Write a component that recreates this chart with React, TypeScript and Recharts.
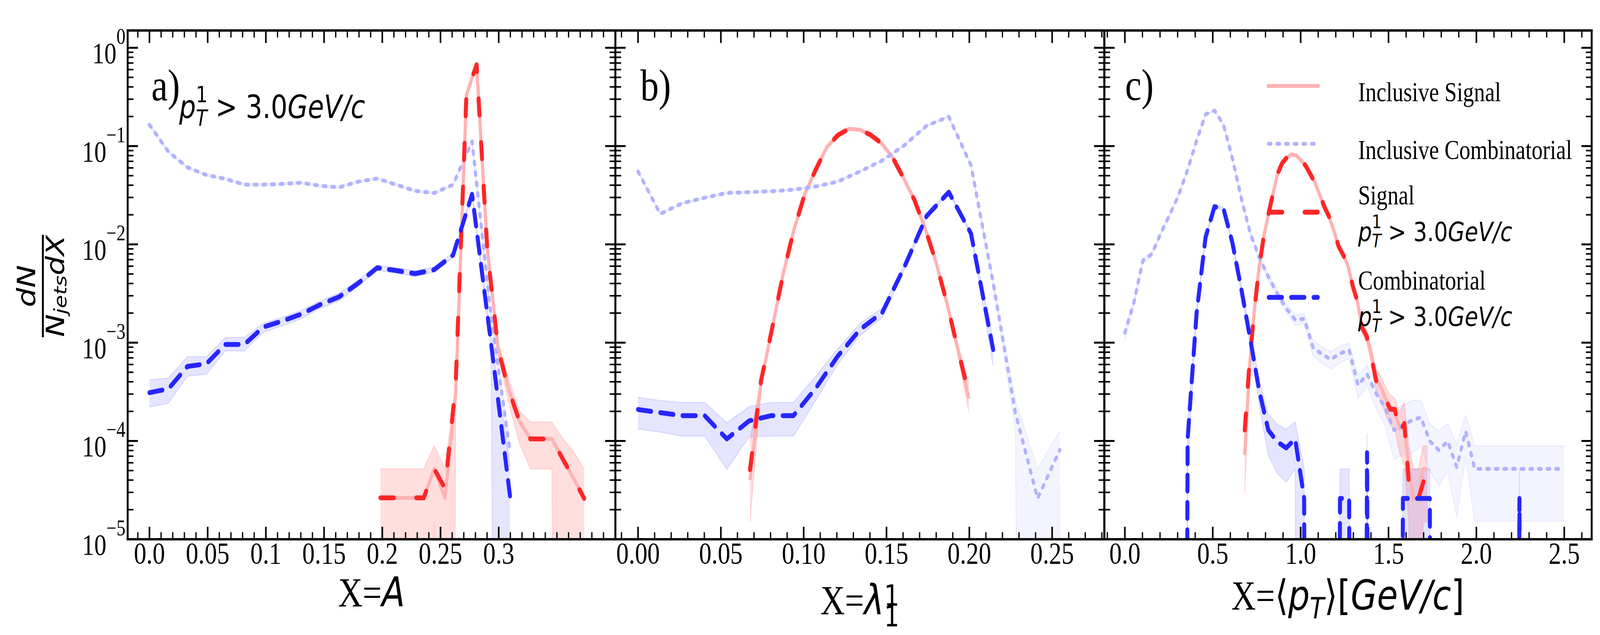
import React from "react";
import { ComposedChart, Line, Area, XAxis, YAxis } from "recharts";

const W = 5000;
const H = 1625;
const PLOT_TOP = 78;
const PLOT_BOTTOM = 1380;
const Y_DOMAIN: [number, number] = [1e-5, 1.5];
const FLOOR = 1e-30; // zero bins on a log axis, pushed far below the frame like matplotlib's clip

const SERIF = "'Liberation Serif', 'Times New Roman', serif";
const MATH = "'DejaVu Sans', sans-serif";

const C_INCL_SIG = "#ffb2b2";
const C_INCL_COMB = "#b2b2ff";
const C_SIG = "#ff2626";
const C_COMB = "#2626ff";

// ---------- y axis ----------
const yDecades = [1e-5, 1e-4, 1e-3, 1e-2, 1e-1, 1];
const yDecadeLabels = ["\u22125", "\u22124", "\u22123", "\u22122", "\u22121", "0"];
const yMinorMult = [2, 3, 4, 5, 6, 7, 8, 9];

// ---------- panel a: X = A ----------
const aTickVals = [0, 0.05, 0.1, 0.15, 0.2, 0.25, 0.3];
const aTickLabels = ["0.0", "0.05", "0.1", "0.15", "0.2", "0.25", "0.3"];

const aBinX = [0, 0.0163, 0.0326, 0.0489, 0.0652, 0.0815, 0.0978, 0.1141, 0.1304, 0.1467, 0.163, 0.1793, 0.1956, 0.2119, 0.2282, 0.2445, 0.2608, 0.2771, 0.2934, 0.3097];
const aInclComb = [0.165, 0.0875, 0.0608, 0.0508, 0.0464, 0.0405, 0.0405, 0.0412, 0.0424, 0.0394, 0.038, 0.0435, 0.0468, 0.0405, 0.035, 0.0332, 0.0405, 0.1117, 1.86e-3, 7.8e-5];
const aInclCombHi = [0.17, 0.09, 0.0625, 0.0522, 0.0477, 0.0416, 0.0416, 0.0423, 0.0436, 0.0405, 0.039, 0.0447, 0.0481, 0.0416, 0.036, 0.0341, 0.0416, 0.1148, 1.96e-3, 1.0e-4];
const aInclCombLo = [0.16, 0.085, 0.0591, 0.0494, 0.0451, 0.0394, 0.0394, 0.0401, 0.0412, 0.0383, 0.037, 0.0423, 0.0455, 0.0394, 0.034, 0.0323, 0.0394, 0.1086, 1.76e-3, 5.6e-5];
const aComb = [3.1e-4, 3.39e-4, 5.73e-4, 6.1e-4, 9.6e-4, 9.6e-4, 1.44e-3, 1.66e-3, 1.95e-3, 2.44e-3, 2.93e-3, 4.02e-3, 5.78e-3, 5.42e-3, 5.04e-3, 5.52e-3, 7.79e-3, 0.0323, 9.9e-4, 2.76e-5];
const aCombHi = [4.18e-4, 4.37e-4, 7.19e-4, 7.19e-4, 1.13e-3, 1.13e-3, 1.58e-3, 1.81e-3, 2.13e-3, 2.67e-3, 3.2e-3, 4.32e-3, 6.15e-3, 5.8e-3, 5.4e-3, 5.9e-3, 8.2e-3, 0.0337, 1.16e-3, 5.5e-5];
const aCombLo = [2.21e-4, 2.42e-4, 4.57e-4, 4.78e-4, 8.24e-4, 8.24e-4, 1.27e-3, 1.49e-3, 1.75e-3, 2.23e-3, 2.67e-3, 3.74e-3, 5.42e-3, 5.1e-3, 4.7e-3, 5.2e-3, 7.4e-3, 0.031, 8.2e-4, 0];

const aSigX = [0.1984, 0.2076, 0.2168, 0.2261, 0.2356, 0.2446, 0.2538, 0.263, 0.2723, 0.281, 0.2902, 0.2995, 0.3087, 0.3179, 0.3272, 0.3364, 0.3457, 0.3549, 0.3641, 0.3734];
const aInclSig = [2.64e-5, 2.64e-5, 2.64e-5, 2.64e-5, 2.64e-5, 5.2e-5, 2.64e-5, 3.0e-4, 0.33, 0.69, 9.0e-3, 8.8e-4, 3.3e-4, 1.58e-4, 1.05e-4, 1.05e-4, 1.05e-4, 6.6e-5, 4.2e-5, 2.6e-5];
const aInclSigHi = [5.2e-5, 5.2e-5, 5.2e-5, 5.2e-5, 5.2e-5, 8.95e-5, 5.2e-5, 3.9e-4, 0.334, 0.694, 9.5e-3, 1.03e-3, 4.2e-4, 2.02e-4, 1.56e-4, 1.56e-4, 1.56e-4, 1.06e-4, 7.9e-5, 5.2e-5];
const aInclSigLo = [0, 0, 0, 0, 0, 1.5e-5, 0, 2.1e-4, 0.326, 0.686, 8.5e-3, 7.3e-4, 2.4e-4, 9.4e-5, 5.2e-5, 5.2e-5, 5.2e-5, 0, 0, 0];
const aSig = [2.64e-5, 2.64e-5, 2.64e-5, 2.64e-5, 2.64e-5, 5.2e-5, 3.3e-5, 3.65e-4, 0.34, 0.67, 8.8e-3, 8.6e-4, 3.27e-4, 1.58e-4, 1.05e-4, 1.05e-4, 1.05e-4, 6.6e-5, 4.2e-5, 2.6e-5];

// ---------- panel b: X = lambda_1^1 ----------
const bTickVals = [0, 0.05, 0.1, 0.15, 0.2, 0.25];
const bTickLabels = ["0.00", "0.05", "0.10", "0.15", "0.20", "0.25"];

const bBinX = [0, 0.0134, 0.0268, 0.0402, 0.0536, 0.067, 0.0804, 0.0938, 0.1072, 0.1206, 0.134, 0.1474, 0.1608, 0.1742, 0.1876, 0.201, 0.2144, 0.2278, 0.2412, 0.2546];
const bInclComb = [0.0552, 0.0204, 0.0263, 0.0298, 0.0334, 0.034, 0.0347, 0.036, 0.0388, 0.0435, 0.0552, 0.0713, 0.102, 0.161, 0.199, 0.0637, 4.05e-3, 1.94e-4, 2.6e-5, 8.1e-5];
const bInclCombHi = [0.0563, 0.0208, 0.0268, 0.0304, 0.0341, 0.0347, 0.0354, 0.0367, 0.0396, 0.0444, 0.0563, 0.0727, 0.104, 0.164, 0.203, 0.065, 4.3e-3, 2.6e-4, 5.2e-5, 1.26e-4];
const bInclCombLo = [0.0541, 0.02, 0.0258, 0.0292, 0.0327, 0.0333, 0.034, 0.0353, 0.038, 0.0426, 0.0541, 0.0699, 0.1, 0.158, 0.195, 0.0624, 3.8e-3, 1.3e-4, 0, 3.5e-5];
const bComb = [2.09e-4, 1.94e-4, 1.81e-4, 1.81e-4, 1.05e-4, 1.6e-4, 1.81e-4, 1.81e-4, 3.43e-4, 7.3e-4, 1.36e-3, 2.02e-3, 5.9e-3, 0.0194, 0.034, 0.0129, 8.5e-4];
const bCombHi = [2.78e-4, 2.58e-4, 2.46e-4, 2.46e-4, 1.53e-4, 2.23e-4, 2.46e-4, 2.46e-4, 4.55e-4, 8.68e-4, 1.57e-3, 2.25e-3, 6.38e-3, 0.0204, 0.0352, 0.0134, 1.07e-3];
const bCombLo = [1.32e-4, 1.23e-4, 1.12e-4, 1.12e-4, 5.13e-5, 1.1e-4, 1.12e-4, 1.12e-4, 2.58e-4, 6.06e-4, 1.18e-3, 1.8e-3, 5.48e-3, 0.0186, 0.0329, 0.0124, 5.78e-4];

const bSigX = [0.0676, 0.0743, 0.0808, 0.0875, 0.094, 0.1007, 0.1073, 0.114, 0.1205, 0.1272, 0.1337, 0.1404, 0.1469, 0.1536, 0.1601, 0.1668, 0.1733, 0.18, 0.1865, 0.1932, 0.1997];
const bSig = [5.1e-5, 4.14e-4, 1.36e-3, 4.9e-3, 0.0139, 0.0327, 0.0578, 0.0975, 0.1285, 0.1496, 0.147, 0.13, 0.107, 0.0769, 0.0479, 0.0284, 0.0146, 6.5e-3, 2.5e-3, 8.45e-4, 2.97e-4];
const bInclSig = [4.0e-5, 4.0e-4, 1.35e-3, 4.9e-3, 0.0139, 0.0327, 0.0578, 0.0975, 0.1285, 0.1496, 0.147, 0.13, 0.107, 0.0769, 0.0479, 0.0284, 0.0146, 6.5e-3, 2.5e-3, 8.45e-4, 2.7e-4];
const bInclSigHi = [1.0e-4, 4.6e-4, 1.45e-3, 5.1e-3, 0.0143, 0.0333, 0.0587, 0.0987, 0.13, 0.1512, 0.1486, 0.1315, 0.1084, 0.0781, 0.0489, 0.0292, 0.0152, 6.85e-3, 2.7e-3, 9.6e-4, 3.9e-4];
const bInclSigLo = [1.5e-5, 3.4e-4, 1.25e-3, 4.7e-3, 0.0135, 0.0321, 0.0569, 0.0963, 0.127, 0.148, 0.1454, 0.1285, 0.1056, 0.0757, 0.0469, 0.0276, 0.014, 6.15e-3, 2.3e-3, 7.3e-4, 2.0e-4];

// ---------- panel c: X = <pT> ----------
const cTickVals = [0, 0.5, 1.0, 1.5, 2.0, 2.5];
const cTickLabels = ["0.0", "0.5", "1.0", "1.5", "2.0", "2.5"];

const cBinX = [0, 0.051, 0.102, 0.153, 0.204, 0.255, 0.306, 0.357, 0.408, 0.459, 0.51, 0.561, 0.612, 0.663, 0.714, 0.765, 0.816, 0.867, 0.918, 0.969, 1.02, 1.071, 1.122, 1.173, 1.224, 1.276, 1.327, 1.378, 1.429, 1.48, 1.531, 1.582, 1.633, 1.684, 1.735, 1.786, 1.837, 1.888, 1.939, 1.99, 2.041, 2.092, 2.143, 2.194, 2.245, 2.296, 2.347, 2.398, 2.449, 2.5];
const cInclComb = [1.26e-3, 2.54e-3, 6.82e-3, 7.96e-3, 0.0129, 0.02, 0.0318, 0.0575, 0.1135, 0.21, 0.23, 0.165, 0.0748, 0.0291, 0.0129, 7.3e-3, 4.68e-3, 3.16e-3, 2.24e-3, 1.71e-3, 1.75e-3, 8.93e-4, 7.59e-4, 6.76e-4, 7.76e-4, 8.41e-4, 3.68e-4, 4.79e-4, 3.05e-4, 2.2e-4, 1.29e-4, 1.45e-4, 1.62e-4, 1.74e-4, 9.95e-5, 8.07e-5, 9.95e-5, 5.42e-5, 1.26e-4, 5.2e-5, 5.2e-5, 5.2e-5, 5.2e-5, 5.2e-5, 5.2e-5, 5.2e-5, 5.2e-5, 5.2e-5, 5.2e-5, 5.2e-5];
const cInclCombHi = [1.44e-3, 2.8e-3, 7.24e-3, 8.42e-3, 0.0135, 0.0207, 0.0327, 0.0587, 0.1152, 0.2123, 0.2325, 0.167, 0.0762, 0.03, 0.0135, 7.74e-3, 5.03e-3, 3.45e-3, 2.48e-3, 1.92e-3, 1.96e-3, 1.05e-3, 9.0e-4, 8.1e-4, 9.2e-4, 9.9e-4, 4.66e-4, 5.9e-4, 3.94e-4, 2.96e-4, 2.1e-4, 2.3e-4, 2.6e-4, 2.6e-4, 1.5e-4, 1.27e-4, 1.5e-4, 9.2e-5, 1.83e-4, 8.9e-5, 8.9e-5, 8.9e-5, 8.9e-5, 8.9e-5, 8.9e-5, 8.9e-5, 8.9e-5, 8.9e-5, 8.9e-5, 8.9e-5];
const cInclCombLo = [1.08e-3, 2.28e-3, 6.4e-3, 7.5e-3, 0.0123, 0.0193, 0.0309, 0.0563, 0.1118, 0.2077, 0.2276, 0.163, 0.0734, 0.0282, 0.0123, 6.86e-3, 4.33e-3, 2.87e-3, 2.0e-3, 1.5e-3, 1.54e-3, 7.4e-4, 6.2e-4, 5.4e-4, 6.3e-4, 6.9e-4, 2.7e-4, 3.67e-4, 2.16e-4, 1.44e-4, 6.5e-5, 7.2e-5, 7.5e-5, 9.0e-5, 4.9e-5, 3.5e-5, 4.9e-5, 1.67e-5, 6.9e-5, 1.53e-5, 1.53e-5, 1.53e-5, 1.53e-5, 1.53e-5, 1.53e-5, 1.53e-5, 1.53e-5, 1.53e-5, 1.53e-5, 1.53e-5];
const cComb = [0, 0, 0, 0, 0, 0, 0, 1.05e-4, 2.0e-3, 0.0118, 0.0242, 0.0231, 0.01035, 3.47e-3, 1.07e-3, 3.2e-4, 1.29e-4, 9.8e-5, 8.5e-5, 1.05e-4, 2.6e-5, 0, 0, 0, 2.6e-5, 2.6e-5, 0, 7.6e-5, 0, 0, 0, 2.6e-5, 2.6e-5, 2.6e-5, 2.6e-5, 0, 0, 0, 0, 0, 0, 0, 0, 0, 2.6e-5, 0, 0, 0, 0, 0];
const cCombHi = [0, 0, 0, 0, 0, 0, 0, 1.56e-4, 2.22e-3, 0.0124, 0.025, 0.0239, 0.0109, 3.77e-3, 1.24e-3, 4.1e-4, 1.86e-4, 1.48e-4, 1.32e-4, 1.56e-4, 5.2e-5, 0, 0, 0, 5.2e-5, 5.2e-5, 0, 1.2e-4, 0, 0, 0, 5.2e-5, 5.2e-5, 5.2e-5, 5.2e-5, 0, 0, 0, 0, 0, 0, 0, 0, 0, 5.2e-5, 0, 0, 0, 0, 0];
const cCombLo = [0, 0, 0, 0, 0, 0, 0, 5.2e-5, 1.78e-3, 0.0113, 0.0234, 0.0223, 9.8e-3, 3.17e-3, 9.0e-4, 2.27e-4, 7.1e-5, 4.7e-5, 3.8e-5, 5.2e-5, 0, 0, 0, 0, 0, 0, 0, 3.2e-5, 0, 0, 0, 0, 0, 0, 0, 0, 0, 0, 0, 0, 0, 0, 0, 0, 0, 0, 0, 0, 0, 0];

const cSigX = [0.682, 0.709, 0.735, 0.762, 0.789, 0.816, 0.842, 0.869, 0.896, 0.922, 0.949, 0.976, 1.002, 1.029, 1.056, 1.082, 1.109, 1.136, 1.162, 1.189, 1.216, 1.243, 1.269, 1.296, 1.323, 1.349, 1.376, 1.403, 1.429, 1.456, 1.483, 1.51, 1.536, 1.563, 1.59, 1.616, 1.643, 1.67, 1.696, 1.723];
const cSig = [1.29e-4, 6.17e-4, 2.0e-3, 5.5e-3, 0.0117, 0.02, 0.0324, 0.0525, 0.0676, 0.0766, 0.0824, 0.08, 0.0716, 0.0631, 0.0515, 0.0423, 0.0318, 0.0239, 0.0191, 0.0138, 9.55e-3, 7.76e-3, 6.07e-3, 3.8e-3, 2.63e-3, 1.43e-3, 1.16e-3, 7.08e-4, 4.14e-4, 3.52e-4, 2.65e-4, 2.1e-4, 2.1e-4, 1.2e-4, 1.51e-4, 3.7e-5, 2.6e-5, 2.6e-5, 3.7e-5, 5.3e-5];
const cInclSig = [7.2e-5, 5.5e-4, 2.0e-3, 5.5e-3, 0.0117, 0.02, 0.0324, 0.0525, 0.0676, 0.0766, 0.0824, 0.08, 0.0716, 0.0631, 0.0515, 0.0423, 0.0318, 0.0239, 0.0191, 0.0138, 9.55e-3, 7.76e-3, 6.07e-3, 3.8e-3, 2.63e-3, 1.43e-3, 1.16e-3, 7.5e-4, 4.3e-4, 3.6e-4, 2.7e-4, 2.2e-4, 2.0e-4, 1.35e-4, 1.4e-4, 5.2e-5, 2.6e-5, 2.6e-5, 5.2e-5, 5.2e-5];
const cInclSigHi = [1.15e-4, 6.7e-4, 2.23e-3, 5.88e-3, 0.01225, 0.0207, 0.0333, 0.0537, 0.0689, 0.078, 0.0839, 0.0814, 0.073, 0.0644, 0.0527, 0.0433, 0.0327, 0.0247, 0.0198, 0.0144, 0.01005, 8.21e-3, 6.47e-3, 4.11e-3, 2.89e-3, 1.62e-3, 1.33e-3, 8.9e-4, 5.4e-4, 4.6e-4, 3.55e-4, 2.95e-4, 2.7e-4, 1.95e-4, 2.5e-4, 8.9e-5, 5.2e-5, 5.2e-5, 8.9e-5, 8.9e-5];
const cInclSigLo = [2.9e-5, 4.3e-4, 1.77e-3, 5.12e-3, 0.01115, 0.0193, 0.0315, 0.0513, 0.0663, 0.0752, 0.0809, 0.0786, 0.0702, 0.0618, 0.0503, 0.0413, 0.0309, 0.0231, 0.0184, 0.0132, 9.05e-3, 7.31e-3, 5.67e-3, 3.49e-3, 2.37e-3, 1.24e-3, 9.9e-4, 6.1e-4, 3.2e-4, 2.6e-4, 1.85e-4, 1.45e-4, 1.3e-4, 7.6e-5, 5.5e-5, 1.5e-5, 0, 0, 1.5e-5, 1.5e-5];

// ---------- helpers ----------
const clampLog = (v: number) => (v > 0 ? v : FLOOR);

const lineRows = (xs: number[], ys: number[]) => xs.slice(0, ys.length).map((x, i) => ({ x, y: clampLog(ys[i]) }));
const bandRows = (xs: number[], lo: number[], hi: number[]) =>
  xs.slice(0, hi.length).map((x, i) => ({ x, band: [clampLog(lo[i]), clampLog(hi[i])] }));

const stepTicks = (from: number, to: number, step: number) => {
  const out: number[] = [];
  for (let i = 0; from + i * step <= to + 1e-9; i++) out.push(Math.round((from + i * step) * 1e6) / 1e6);
  return out;
};

const near = (a: number, b: number) => Math.abs(a - b) < 1e-7;

function makeXTick(side: "bottom" | "top", majors: number[], labels: string[]) {
  return (props: any) => {
    const { x, y, payload } = props;
    const idx = majors.findIndex((m) => near(m, payload.value));
    const major = idx >= 0;
    const len = major ? 32 : 18;
    const dir = side === "bottom" ? -1 : 1;
    return (
      <g>
        <line x1={x} y1={y} x2={x} y2={y + dir * len} stroke="#000" strokeWidth={major ? 5 : 4} />
        {side === "bottom" && major && (
          <text x={x} y={y + 62} textAnchor="middle" fontFamily={SERIF} fontSize={78} fill="#000">
            {labels[idx]}
          </text>
        )}
      </g>
    );
  };
}

function makeYTick(side: "left" | "right", showLabels: boolean) {
  return (props: any) => {
    const { x, y, payload } = props;
    const idx = yDecades.findIndex((d) => Math.abs(d - payload.value) / d < 1e-6);
    const major = idx >= 0;
    const len = major ? 32 : 18;
    const dir = side === "left" ? 1 : -1;
    return (
      <g>
        <line x1={x} y1={y} x2={x + dir * len} y2={y} stroke="#000" strokeWidth={major ? 5 : 4} />
        {showLabels && major && (
          <text x={x - 7} y={y + 40} textAnchor="end" fontFamily={SERIF} fontSize={76} fill="#000">
            <tspan>10</tspan>
            <tspan fontSize={56} dy={-50}>
              {yDecadeLabels[idx]}
            </tspan>
          </text>
        )}
      </g>
    );
  };
}

const yTicks = [...yDecades, ...yDecades.slice(0, 5).flatMap((d) => yMinorMult.map((m) => m * d))];

interface PanelProps {
  left: number;
  right: number;
  xDomain: [number, number];
  xMajor: number[];
  xLabels: string[];
  xMinor: number[];
  yLabels: boolean;
  inclSig: { x: number[]; y: number[]; lo: number[]; hi: number[] };
  inclComb: { x: number[]; y: number[]; lo: number[]; hi: number[] };
  sig: { x: number[]; y: number[] };
  comb: { x: number[]; y: number[]; lo: number[]; hi: number[] };
}

function Panel(p: PanelProps) {
  const xTicks = [...p.xMajor, ...p.xMinor.filter((m) => !p.xMajor.some((M) => near(M, m)))];
  const axisLine = { stroke: "#000", strokeWidth: 6, strokeLinecap: "square" as const };
  // every axis takes 1px, so the margins leave the plot box exactly at [left,right] x [top,bottom]
  return (
    <div style={{ position: "absolute", left: 0, top: 0 }}>
      <ComposedChart
        width={W}
        height={H}
        margin={{ top: PLOT_TOP - 1, bottom: H - PLOT_BOTTOM - 1, left: p.left - 1, right: W - p.right - 1 }}
      >
        <Area xAxisId="b" yAxisId="l" data={bandRows(p.inclComb.x, p.inclComb.lo, p.inclComb.hi)} dataKey="band" type="linear"
          fill="#0000ff" fillOpacity={0.045} stroke="#0000ff" strokeOpacity={0.06} strokeWidth={3} isAnimationActive={false} />
        <Area xAxisId="b" yAxisId="l" data={bandRows(p.inclSig.x, p.inclSig.lo, p.inclSig.hi)} dataKey="band" type="linear"
          fill="#ff0000" fillOpacity={0.13} stroke="#ff0000" strokeOpacity={0.12} strokeWidth={3} isAnimationActive={false} />
        <Area xAxisId="b" yAxisId="l" data={bandRows(p.comb.x, p.comb.lo, p.comb.hi)} dataKey="band" type="linear"
          fill="#0000ff" fillOpacity={0.1} stroke="#0000ff" strokeOpacity={0.1} strokeWidth={3} isAnimationActive={false} />
        <Line xAxisId="b" yAxisId="l" data={lineRows(p.inclSig.x, p.inclSig.y)} dataKey="y" type="linear" dot={false}
          stroke={C_INCL_SIG} strokeWidth={10} strokeLinejoin="round" isAnimationActive={false} />
        <Line xAxisId="b" yAxisId="l" data={lineRows(p.inclComb.x, p.inclComb.y)} dataKey="y" type="linear" dot={false}
          stroke={C_INCL_COMB} strokeWidth={10} strokeDasharray="7.5 19.5" strokeLinecap="round" strokeLinejoin="round" isAnimationActive={false} />
        <Line xAxisId="b" yAxisId="l" data={lineRows(p.sig.x, p.sig.y)} dataKey="y" type="linear" dot={false}
          stroke={C_SIG} strokeWidth={12.5} strokeDasharray="42 70" strokeLinecap="round" strokeLinejoin="round" isAnimationActive={false} />
        <Line xAxisId="b" yAxisId="l" data={lineRows(p.comb.x, p.comb.y)} dataKey="y" type="linear" dot={false}
          stroke={C_COMB} strokeWidth={12.5} strokeDasharray="41 29" strokeLinecap="round" strokeLinejoin="round" isAnimationActive={false} />

        <XAxis xAxisId="b" type="number" dataKey="x" domain={p.xDomain} allowDataOverflow ticks={xTicks} interval={0}
          height={1} tickSize={0} tickMargin={0} tickLine={false} axisLine={axisLine} tick={makeXTick("bottom", p.xMajor, p.xLabels)} />
        <XAxis xAxisId="t" orientation="top" type="number" dataKey="x" domain={p.xDomain} allowDataOverflow ticks={xTicks} interval={0}
          height={1} tickSize={0} tickMargin={0} tickLine={false} axisLine={axisLine} tick={makeXTick("top", p.xMajor, p.xLabels)} />
        <YAxis yAxisId="l" type="number" scale="log" domain={Y_DOMAIN} allowDataOverflow ticks={yTicks} interval={0}
          width={1} tickSize={0} tickMargin={0} tickLine={false} axisLine={axisLine} tick={makeYTick("left", p.yLabels)} />
        <YAxis yAxisId="r" orientation="right" type="number" scale="log" domain={Y_DOMAIN} allowDataOverflow ticks={yTicks} interval={0}
          width={1} tickSize={0} tickMargin={0} tickLine={false} axisLine={axisLine} tick={makeYTick("right", false)} />
      </ComposedChart>
    </div>
  );
}

function PtCut({ x, y, fs }: { x: number; y: number; fs: number }) {
  return (
    <text x={x} y={y} fontFamily={MATH} fontSize={fs} fill="#000" style={{ whiteSpace: "pre" }}>
      <tspan fontStyle="italic">p</tspan>
      <tspan fontSize={fs * 0.7} dy={-0.49 * fs}>1</tspan>
      <tspan fontSize={fs * 0.7} fontStyle="italic" dx={-0.445 * fs} dy={0.73 * fs}>T</tspan>
      <tspan dy={-0.24 * fs}>{" > 3.0"}</tspan>
      <tspan fontStyle="italic">GeV/c</tspan>
    </text>
  );
}

function Overlay() {
  return (
    <svg width={W} height={H} style={{ position: "absolute", left: 0, top: 0 }}>
      {/* y label: dN / (N_jets dX) */}
      <g transform="translate(134 732) rotate(-90)" fontFamily={MATH} fontStyle="italic" fontSize={78} fill="#000">
        <text x={0} y={-24} textAnchor="middle">dN</text>
        <line x1={-131} x2={131} y1={0} y2={0} stroke="#000" strokeWidth={6} />
        <text x={0} y={66} textAnchor="middle">
          N<tspan fontSize={55} dy={8}>jets</tspan>
          <tspan dy={-8}>dX</tspan>
        </text>
      </g>

      {/* x labels */}
      <text x={1161} y={1552} textAnchor="middle" fontSize={106} fill="#000">
        <tspan fontFamily={SERIF}>X=</tspan>
        <tspan fontFamily={MATH} fontStyle="italic">A</tspan>
      </text>
      <text x={2687} y={1572} textAnchor="middle" fontSize={106} fill="#000">
        <tspan fontFamily={SERIF}>X=</tspan>
        <tspan fontFamily={MATH} fontStyle="italic">λ</tspan>
        <tspan fontFamily={MATH} fontSize={74} dy={-22}>1</tspan>
        <tspan fontFamily={MATH} fontSize={74} dx={-47} dy={53}>1</tspan>
      </text>
      <text x={4212} y={1560} textAnchor="middle" fontSize={106} fill="#000">
        <tspan fontFamily={SERIF}>X=</tspan>
        <tspan fontFamily={MATH}>⟨</tspan>
        <tspan fontFamily={MATH} fontStyle="italic">p</tspan>
        <tspan fontFamily={MATH} fontStyle="italic" fontSize={74} dy={22}>T</tspan>
        <tspan fontFamily={MATH} dy={-22}>⟩[</tspan>
        <tspan fontFamily={MATH} fontStyle="italic">GeV/c</tspan>
        <tspan fontFamily={MATH}>]</tspan>
      </text>

      {/* panel tags */}
      <text x={473} y={257} fontFamily={SERIF} fontSize={115} fill="#000">a)</text>
      <text x={2001} y={257} fontFamily={SERIF} fontSize={115} fill="#000">b)</text>
      <text x={3516} y={256} fontFamily={SERIF} fontSize={115} fill="#000">c)</text>
      <PtCut x={560} y={302} fs={82} />

      {/* legend */}
      <line x1={3959} x2={4124} y1={220} y2={220} stroke={C_INCL_SIG} strokeWidth={10} />
      <text x={4244} y={259} fontFamily={SERIF} fontSize={69} fill="#000">Inclusive Signal</text>
      <line x1={3964} x2={4124} y1={368} y2={368} stroke={C_INCL_COMB} strokeWidth={10} strokeDasharray="7.5 19.5" strokeLinecap="round" />
      <text x={4244} y={407} fontFamily={SERIF} fontSize={69} fill="#000">Inclusive Combinatorial</text>
      <line x1={3965} x2={4118} y1={543} y2={543} stroke={C_SIG} strokeWidth={12.5} strokeDasharray="42 70" strokeLinecap="round" />
      <text x={4244} y={523} fontFamily={SERIF} fontSize={69} fill="#000">Signal</text>
      <PtCut x={4244} y={617} fs={68} />
      <line x1={3965} x2={4118} y1={761} y2={761} stroke={C_COMB} strokeWidth={12.5} strokeDasharray="41 29" strokeLinecap="round" />
      <text x={4244} y={741} fontFamily={SERIF} fontSize={69} fill="#000">Combinatorial</text>
      <PtCut x={4244} y={834} fs={68} />
    </svg>
  );
}

export default function App() {
  // the browser caps the window below the requested width, so the 5000px figure is squeezed to fit it
  const sx = Math.min(1, window.innerWidth / W);
  const sy = Math.min(1, window.innerHeight / H);
  return (
    <div style={{ position: "absolute", left: 0, top: 0, width: W * sx, height: H * sy, overflow: "hidden", background: "#fff" }}>
      <div style={{ position: "absolute", left: 0, top: 0, width: W, height: H, transform: `scale(${sx}, ${sy})`, transformOrigin: "0 0" }}>
        <Panel
          left={399}
          right={1923}
          xDomain={[-0.0187, 0.4002]}
          xMajor={aTickVals}
          xLabels={aTickLabels}
          xMinor={stepTicks(-0.01, 0.4, 0.01)}
          yLabels
          inclSig={{ x: aSigX, y: aInclSig, lo: aInclSigLo, hi: aInclSigHi }}
          inclComb={{ x: aBinX, y: aInclComb, lo: aInclCombLo, hi: aInclCombHi }}
          sig={{ x: aSigX, y: aSig }}
          comb={{ x: aBinX, y: aComb, lo: aCombLo, hi: aCombHi }}
        />
        <Panel
          left={1923}
          right={3451}
          xDomain={[-0.0137, 0.2815]}
          xMajor={bTickVals}
          xLabels={bTickLabels}
          xMinor={stepTicks(-0.01, 0.28, 0.01)}
          yLabels={false}
          inclSig={{ x: bSigX, y: bInclSig, lo: bInclSigLo, hi: bInclSigHi }}
          inclComb={{ x: bBinX, y: bInclComb, lo: bInclCombLo, hi: bInclCombHi }}
          sig={{ x: bSigX, y: bSig }}
          comb={{ x: bBinX, y: bComb, lo: bCombLo, hi: bCombHi }}
        />
        <Panel
          left={3451}
          right={4974}
          xDomain={[-0.117, 2.656]}
          xMajor={cTickVals}
          xLabels={cTickLabels}
          xMinor={stepTicks(-0.1, 2.6, 0.1)}
          yLabels={false}
          inclSig={{ x: cSigX, y: cInclSig, lo: cInclSigLo, hi: cInclSigHi }}
          inclComb={{ x: cBinX, y: cInclComb, lo: cInclCombLo, hi: cInclCombHi }}
          sig={{ x: cSigX, y: cSig }}
          comb={{ x: cBinX, y: cComb, lo: cCombLo, hi: cCombHi }}
        />
        <Overlay />
      </div>
    </div>
  );
}
